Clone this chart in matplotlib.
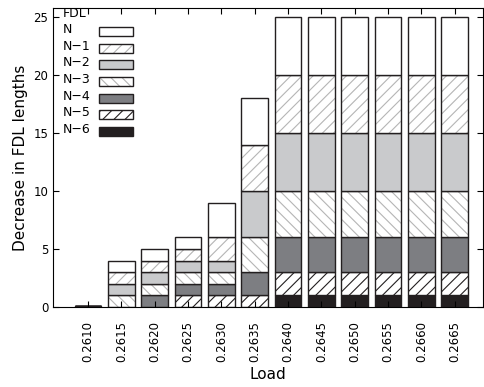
import numpy as np
import matplotlib
matplotlib.use('Agg')
import matplotlib.pyplot as plt
from matplotlib.patches import Rectangle

plt.rcParams['font.family'] = ['DejaVu Sans']
plt.rcParams['hatch.linewidth'] = 0.8

loads = ['0.2610', '0.2615', '0.2620', '0.2625', '0.2630', '0.2635',
         '0.2640', '0.2645', '0.2650', '0.2655', '0.2660', '0.2665']

# stacked from bottom (N-6) to top (N)
n6 = [0.1, 0, 0, 0, 0, 0, 1, 1, 1, 1, 1, 1]
n5 = [0, 0, 0, 1, 1, 1, 2, 2, 2, 2, 2, 2]
n4 = [0, 0, 1, 1, 1, 2, 3, 3, 3, 3, 3, 3]
n3 = [0, 1, 1, 1, 1, 3, 4, 4, 4, 4, 4, 4]
n2 = [0, 1, 1, 1, 1, 4, 5, 5, 5, 5, 5, 5]
n1 = [0, 1, 1, 1, 2, 4, 5, 5, 5, 5, 5, 5]
n0 = [0, 1, 1, 1, 3, 4, 5, 5, 5, 5, 5, 5]

series = [n6, n5, n4, n3, n2, n1, n0]
names = ['N\u22126', 'N\u22125', 'N\u22124', 'N\u22123', 'N\u22122', 'N\u22121', 'N']
# (facecolor, hatch, hatch colour)
styles = [('#231f20', None, None),
          ('white', '///', '#231f20'),
          ('#7d7e82', None, None),
          ('white', '\\\\\\', '#b5b5b5'),
          ('#c9cacc', None, None),
          ('white', '///', '#b5b5b5'),
          ('white', None, None)]
edge = '#231f20'

fig = plt.figure(figsize=(4.84, 3.87), dpi=100)
ax = fig.add_axes([53 / 484, 80 / 387, 430 / 484, 299 / 387])

x = np.arange(len(loads))
bottom = np.zeros(len(loads))
w = 0.8
for vals, (fc, hatch, hc) in zip(series, styles):
    vals = np.array(vals, dtype=float)
    if hatch:
        ax.bar(x, vals, w, bottom=bottom, color=fc, edgecolor=hc, hatch=hatch, linewidth=0)
        ax.bar(x, vals, w, bottom=bottom, facecolor='none', edgecolor=edge, linewidth=1)
    else:
        ax.bar(x, vals, w, bottom=bottom, color=fc, edgecolor=edge, linewidth=1)
    bottom += vals

# legend drawn by hand: labels left, swatches right
ax.text(0.023, 0.983, 'FDL', transform=ax.transAxes, fontsize=9, va='center', ha='left')
ty = 0.928
for name, (fc, hatch, hc) in zip(names[::-1], styles[::-1]):
    ax.text(0.023, ty, name, transform=ax.transAxes, fontsize=9, va='center', ha='left')
    if hatch:
        ax.add_patch(Rectangle((0.107, ty - 0.022), 0.079, 0.03, transform=ax.transAxes,
                               facecolor=fc, edgecolor=hc, hatch=hatch, linewidth=0))
        ax.add_patch(Rectangle((0.107, ty - 0.022), 0.079, 0.03, transform=ax.transAxes,
                               facecolor='none', edgecolor=edge, linewidth=1))
    else:
        ax.add_patch(Rectangle((0.107, ty - 0.022), 0.079, 0.03, transform=ax.transAxes,
                               facecolor=fc, edgecolor=edge, linewidth=1))
    ty -= 0.0556

ax.set_xlim(-1.05, 11.85)
ax.set_ylim(0, 25.8)
ax.set_xticks(x)
ax.set_xticklabels(loads, rotation=90, fontsize=8.5)
ax.set_yticks([0, 5, 10, 15, 20, 25])
ax.tick_params(axis='y', labelsize=8.5, direction='in', right=True, length=4)
ax.tick_params(axis='x', direction='in', top=True, length=4, pad=10)
ax.set_xlabel('Load', fontsize=11)
ax.set_ylabel('Decrease in FDL lengths', fontsize=11)

fig.savefig('out.png', dpi=100)
